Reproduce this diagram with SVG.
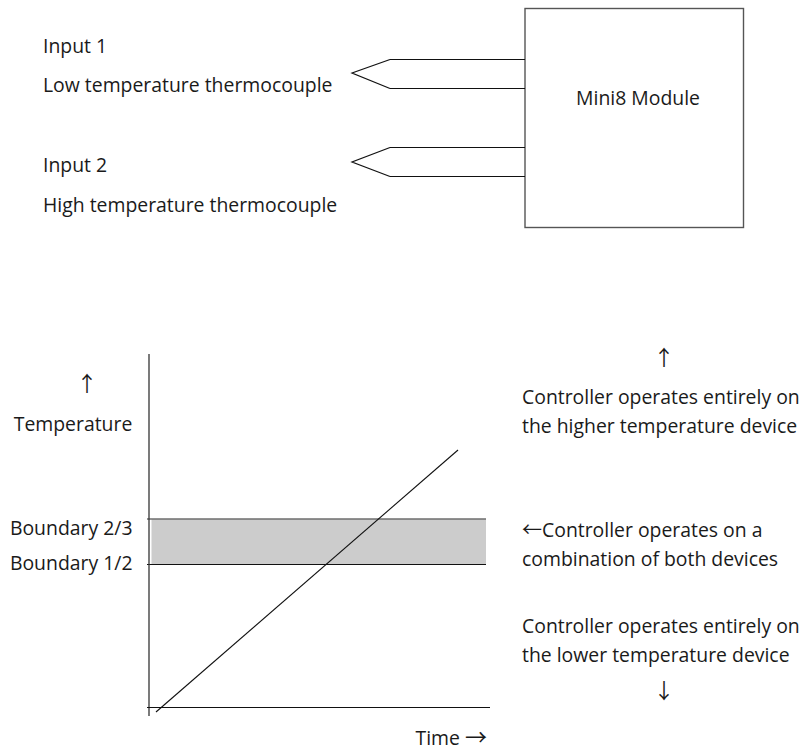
<svg xmlns="http://www.w3.org/2000/svg" width="807" height="751" viewBox="0 0 807 751">
  <style>
    text { font-family: "Open Sans", "Noto Sans", "DejaVu Sans", sans-serif; font-size: 19.4px; fill: #1a1a1a; }
    .wire { stroke: #111; stroke-width: 1.2; fill: none; }
    .axis { stroke: #333; stroke-width: 1.3; fill: none; }
    .arr { font-family: "Noto Sans CJK SC", "DejaVu Sans", sans-serif; }
    .varr { font-family: "Noto Sans CJK SC", "DejaVu Sans", sans-serif; font-size: 21px; }
  </style>
  <rect width="807" height="751" fill="#ffffff"/>

  <!-- Input labels -->
  <g id="input1-label">
    <text x="43" y="53">Input 1</text>
    <text x="43" y="92">Low temperature thermocouple</text>
  </g>
  <g id="input2-label">
    <text x="43" y="172">Input 2</text>
    <text x="43" y="212">High temperature thermocouple</text>
  </g>

  <!-- Module -->
  <g id="mini8-module">
    <rect x="525" y="8.5" width="218.5" height="219" fill="#ffffff" stroke="#555" stroke-width="1.4"/>
    <text x="638" y="105" text-anchor="middle">Mini8 Module</text>
  </g>

  <!-- Thermocouple leads -->
  <g id="connectors">
    <g id="thermocouple1">
      <line class="wire" x1="390" y1="59.5" x2="525" y2="59.5"/>
      <line class="wire" x1="390" y1="88.5" x2="525" y2="88.5"/>
      <polyline class="wire" points="390,59.5 352,73 390,88.5"/>
    </g>
    <g id="thermocouple2">
      <line class="wire" x1="390" y1="147.5" x2="525" y2="147.5"/>
      <line class="wire" x1="390" y1="176.5" x2="525" y2="176.5"/>
      <polyline class="wire" points="390,147.5 352,162 390,176.5"/>
    </g>
  </g>

  <!-- Temperature / time chart -->
  <g id="chart">
    <rect x="151.5" y="519" width="334.5" height="45.5" fill="#cccccc"/>
    <line x1="147" y1="519" x2="486" y2="519" stroke="#6e6e6e" stroke-width="1.3"/>
    <line x1="147" y1="564.5" x2="486" y2="564.5" stroke="#111" stroke-width="1.2"/>
    <line class="axis" x1="149" y1="354" x2="149" y2="716"/>
    <line x1="147" y1="707.5" x2="490" y2="707.5" stroke="#111" stroke-width="1.2"/>
    <line x1="156" y1="712" x2="458" y2="450" stroke="#111" stroke-width="1.1"/>
  </g>

  <g id="axis-labels">
    <text class="varr" x="87" y="391" text-anchor="middle">↑</text>
    <text x="73" y="430.5" text-anchor="middle">Temperature</text>
    <text x="132.5" y="535" text-anchor="end">Boundary 2/3</text>
    <text x="132.5" y="570" text-anchor="end">Boundary 1/2</text>
    <text x="487" y="745" text-anchor="end">Time <tspan class="arr" font-size="22px">→</tspan></text>
  </g>

  <!-- Region notes -->
  <g id="note-high">
    <text class="varr" x="664" y="365" text-anchor="middle">↑</text>
    <text x="522" y="404">Controller operates entirely on</text>
    <text x="522" y="433">the higher temperature device</text>
  </g>
  <g id="note-both">
    <text x="522" y="537"><tspan class="arr" font-size="20px">←</tspan>Controller operates on a</text>
    <text x="522" y="565.5">combination of both devices</text>
  </g>
  <g id="note-low">
    <text x="522" y="633">Controller operates entirely on</text>
    <text x="522" y="661.5">the lower temperature device</text>
    <text class="varr" x="664" y="698" text-anchor="middle">↓</text>
  </g>
</svg>
